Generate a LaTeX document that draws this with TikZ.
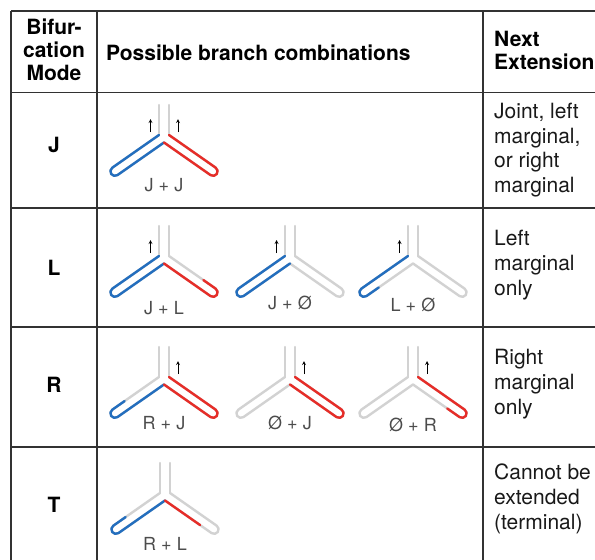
\documentclass[tikz,border=0pt]{standalone}
\usepackage{fontspec}
\setmainfont{TeX Gyre Heros}
\usetikzlibrary{arrows,positioning}

\definecolor{branchblue}{RGB}{35,110,190}
\definecolor{branchred}{RGB}{230,45,40}
\definecolor{stemgray}{RGB}{210,210,210}
\definecolor{rulegray}{RGB}{50,50,50}

% pieces of one arm, drawn in the arm's own frame (x along the arm, inner wall at y=-9)
\newcommand{\armfull}[1]{\draw[tube, #1] (0,0) -- (57,0) arc[start angle=90, end angle=-90, radius=4.5] -- (0.2,-9);}
\newcommand{\armouter}[1]{\draw[tube, #1] (0,0) -- (57,0) arc[start angle=90, end angle=-90, radius=4.5] -- (42,-9);}
\newcommand{\arminner}[1]{\draw[tube, #1] (42,0) -- (57,0) arc[start angle=90, end angle=-90, radius=4.5] -- (0.2,-9);}
\newcommand{\armstub}[1]{\draw[tube, #1] (0.2,-9) -- (43,-9);}

% the gray Y: two stems and two arms
\newcommand{\branchY}{%
  \draw[tube] (-5,0) -- (-5,-30);
  \draw[tube] (5,0) -- (5,-30);
  \begin{scope}[leftarm]\armfull{}\end{scope}
  \begin{scope}[rightarm]\armfull{}\end{scope}}

\begin{document}
\begin{tikzpicture}[x=1pt, y=1pt, yscale=-1, >=stealth,
    tube/.style={stemgray, line width=2.4pt, line cap=round, line join=round},
    leftarm/.style={shift={(-5,0)}, rotate=145},
    rightarm/.style={shift={(5,0)}, rotate=35, yscale=-1},
    tablerule/.style={rulegray, line width=1.3pt},
    headtext/.style={font=\fontsize{21}{23}\selectfont\bfseries, inner sep=0pt},
    bodytext/.style={font=\fontsize{21}{24.7}\selectfont, text=black!90, inner sep=0pt, align=left, anchor=west},
    combolabel/.style={font=\fontsize{18}{18}\selectfont, text=black!70, inner sep=0pt},
    nextarrow/.style={->, black, line width=0.8pt}]
        \useasboundingbox (0,0) rectangle (595,560);

        % Table rules
        \draw[tablerule] (11,11) -- (595,11);
        \draw[tablerule] (11,92.5) -- (595,92.5);
        \draw[tablerule] (11,208) -- (595,208);
        \draw[tablerule] (11,327) -- (595,327);
        \draw[tablerule] (11,447) -- (595,447);
        \draw[tablerule] (11,11) -- (11,560);
        \draw[tablerule] (97,11) -- (97,560);
        \draw[tablerule] (483,11) -- (483,560);

        % Header
        \node[headtext, align=center] (modehead) at (54,50) {Bifur-\\cation\\Mode};
        \node[headtext, anchor=west] (combohead) at (106,53) {Possible branch combinations};
        \node[headtext, anchor=west, align=left] (nexthead) at (494,50) {Next\\Extension};

        % Modes
        \node[headtext] (modeJ) at (54,145) {J};
        \node[headtext] (modeL) at (54,268) {L};
        \node[headtext] (modeR) at (54,385) {R};
        \node[headtext] (modeT) at (54,505) {T};

        % Next extension
        \node[bodytext] (nextJ) at (494,150) {Joint, left\\marginal,\\or right\\marginal};
        \node[bodytext] (nextL) at (494,265) {Left\\marginal\\only};
        \node[bodytext] (nextR) at (494,384) {Right\\marginal\\only};
        \node[bodytext] (nextT) at (494,499) {Cannot be\\extended\\(terminal)};

        % J + J
        \begin{scope}[shift={(164,135)}]
            \branchY
            \begin{scope}[leftarm]\armfull{branchblue}\end{scope}
            \begin{scope}[rightarm]\armfull{branchred}\end{scope}
            \draw[nextarrow] (-13.5,-3) -- (-13.5,-16);
            \draw[nextarrow] (14,-3) -- (14,-16);
            \node[combolabel] (jj) at (0,50) {J + J};
        \end{scope}

        % J + L
        \begin{scope}[shift={(164,256)}]
            \branchY
            \begin{scope}[leftarm]\armfull{branchblue}\end{scope}
            \begin{scope}[rightarm]\arminner{branchred}\end{scope}
            \draw[nextarrow] (-13.5,-3) -- (-13.5,-16);
            \node[combolabel] (jl) at (0,52) {J + L};
        \end{scope}

        % J + empty
        \begin{scope}[shift={(290,256)}]
            \branchY
            \begin{scope}[leftarm]\armfull{branchblue}\end{scope}
            \draw[nextarrow] (-13.5,-3) -- (-13.5,-16);
            \node[combolabel] (jo) at (0,47) {J + Ø};
        \end{scope}

        % L + empty
        \begin{scope}[shift={(413,256)}]
            \branchY
            \begin{scope}[leftarm]\armouter{branchblue}\end{scope}
            \draw[nextarrow] (-13.5,-3) -- (-13.5,-16);
            \node[combolabel] (lo) at (0,49) {L + Ø};
        \end{scope}

        % R + J
        \begin{scope}[shift={(164,377)}]
            \branchY
            \begin{scope}[leftarm]\arminner{branchblue}\end{scope}
            \begin{scope}[rightarm]\armfull{branchred}\end{scope}
            \draw[nextarrow] (14,-3) -- (14,-16);
            \node[combolabel] (rj) at (0,46) {R + J};
        \end{scope}

        % empty + J
        \begin{scope}[shift={(290,377)}]
            \branchY
            \begin{scope}[rightarm]\armfull{branchred}\end{scope}
            \draw[nextarrow] (14,-3) -- (14,-16);
            \node[combolabel] (oj) at (0,46) {Ø + J};
        \end{scope}

        % empty + R
        \begin{scope}[shift={(413,377)}]
            \branchY
            \begin{scope}[rightarm]\armouter{branchred}\end{scope}
            \draw[nextarrow] (14,-3) -- (14,-16);
            \node[combolabel] (or) at (0,48) {Ø + R};
        \end{scope}

        % R + L
        \begin{scope}[shift={(165,493)}]
            \branchY
            \begin{scope}[leftarm]\arminner{branchblue}\end{scope}
            \begin{scope}[rightarm]\armstub{branchred}\end{scope}
            \node[combolabel] (rl) at (0,51) {R + L};
        \end{scope}
\end{tikzpicture}
\end{document}
